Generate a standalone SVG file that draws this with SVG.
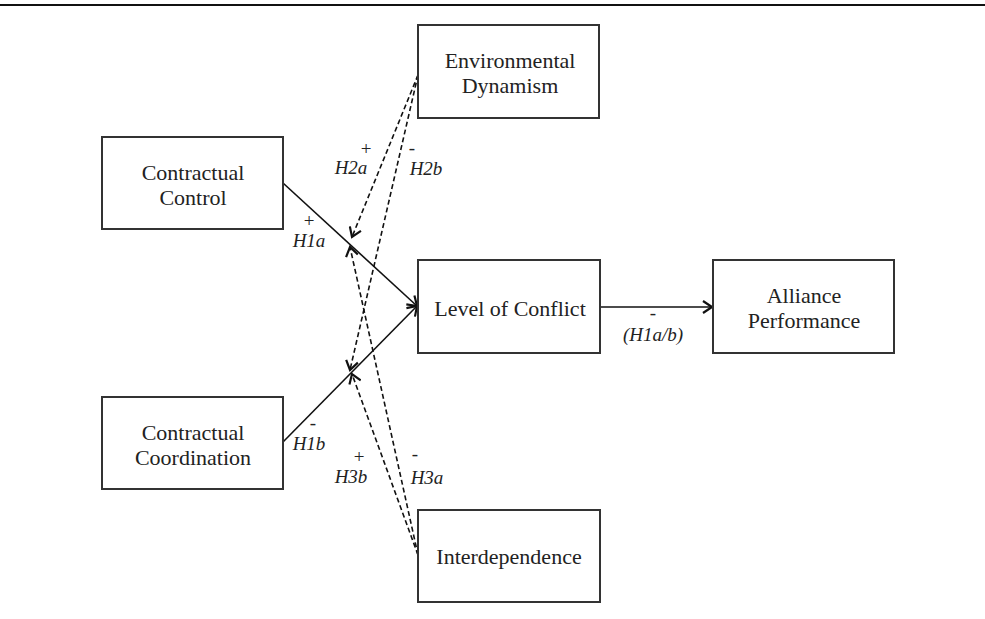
<svg xmlns="http://www.w3.org/2000/svg" width="985" height="619" viewBox="0 0 985 619">
<defs>
<style>
.box{fill:#fff;stroke:#333;stroke-width:2}
.t{font-family:"Liberation Serif","Times New Roman",serif;font-size:22px;fill:#222;text-anchor:middle}
.l{font-family:"Liberation Serif","Times New Roman",serif;font-size:19px;font-style:italic;fill:#222;text-anchor:middle}
.s{font-family:"Liberation Serif","Times New Roman",serif;font-size:19px;fill:#222;text-anchor:middle}
.c{fill:none;stroke:#111;stroke-width:1.6}
.d{fill:none;stroke:#111;stroke-width:1.6;stroke-dasharray:5 3}
</style>
<marker id="ah" markerUnits="userSpaceOnUse" markerWidth="12" markerHeight="14" refX="10" refY="7" orient="auto" viewBox="0 0 12 14">
<path d="M1,1 L10,7 L1,13" fill="none" stroke="#111" stroke-width="2.2"/>
</marker>
</defs>
<rect width="985" height="619" fill="#fff"/>
<line x1="0" y1="5" x2="985" y2="5" stroke="#111" stroke-width="2"/>

<g id="connectors">
<line class="c" x1="283" y1="183" x2="417" y2="306" marker-end="url(#ah)"/>
<line class="c" x1="283" y1="442" x2="417" y2="306" marker-end="url(#ah)"/>
<line class="c" x1="600" y1="307" x2="712" y2="307" marker-end="url(#ah)"/>
<line class="d" x1="418" y1="75" x2="352" y2="237" marker-end="url(#ah)"/>
<line class="d" x1="418" y1="75" x2="350" y2="370" marker-end="url(#ah)"/>
<line class="d" x1="418" y1="555" x2="350" y2="247" marker-end="url(#ah)"/>
<line class="d" x1="418" y1="555" x2="352" y2="374" marker-end="url(#ah)"/>
</g>

<g id="labels">
<text class="s" x="366" y="155">+</text>
<text class="l" x="351" y="174">H2a</text>
<text class="s" x="412" y="154">-</text>
<text class="l" x="426" y="175">H2b</text>
<text class="s" x="309" y="227">+</text>
<text class="l" x="309" y="247">H1a</text>
<text class="s" x="313" y="429">-</text>
<text class="l" x="309" y="450">H1b</text>
<text class="s" x="359" y="463">+</text>
<text class="l" x="351" y="483">H3b</text>
<text class="s" x="415" y="460">-</text>
<text class="l" x="427" y="484">H3a</text>
<text class="s" x="653" y="319">-</text>
<text class="l" x="653" y="341">(H1a/b)</text>
</g>

<g id="env">
<rect class="box" x="418" y="25" width="181" height="93"/>
<text class="t" x="510" y="68">Environmental</text>
<text class="t" x="510" y="93">Dynamism</text>
</g>
<g id="cc">
<rect class="box" x="102" y="137" width="181" height="92"/>
<text class="t" x="193" y="180">Contractual</text>
<text class="t" x="193" y="205">Control</text>
</g>
<g id="ccoord">
<rect class="box" x="102" y="397" width="181" height="92"/>
<text class="t" x="193" y="440">Contractual</text>
<text class="t" x="193" y="465">Coordination</text>
</g>
<g id="loc">
<rect class="box" x="418" y="260" width="182" height="93"/>
<text class="t" x="510" y="316">Level of Conflict</text>
</g>
<g id="ap">
<rect class="box" x="713" y="260" width="181" height="93"/>
<text class="t" x="804" y="303">Alliance</text>
<text class="t" x="804" y="328">Performance</text>
</g>
<g id="inter">
<rect class="box" x="418" y="510" width="182" height="92"/>
<text class="t" x="509" y="564">Interdependence</text>
</g>
</svg>
